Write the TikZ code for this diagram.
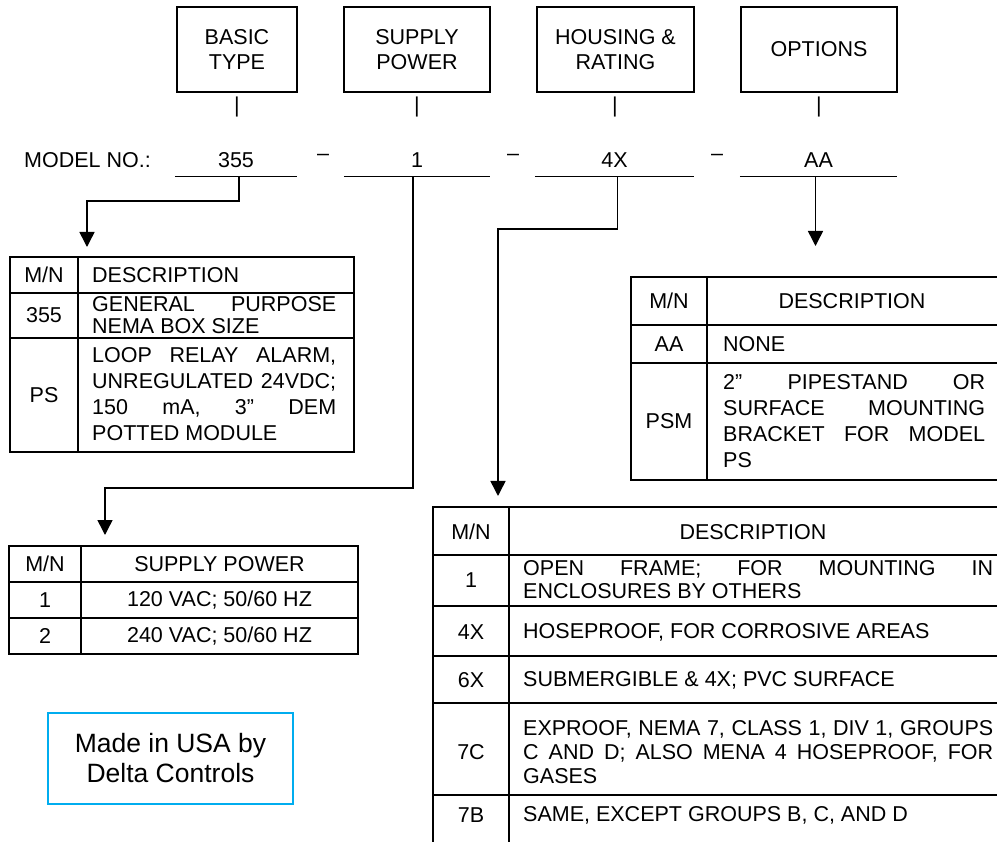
\documentclass[tikz,border=0pt]{standalone}
\usepackage{fontspec}
\setmainfont{Liberation Sans}
\usetikzlibrary{arrows.meta,positioning}

% justified line of a description
\newcommand{\jl}[1]{\makebox[\hsize][s]{#1}}

\begin{document}
\begin{tikzpicture}[x=1pt, y=-1pt,
    font=\fontsize{21.5}{25}\selectfont,
    headbox/.style={draw, line width=1.5pt, minimum width=#1, minimum height=85pt, align=center, inner sep=0pt},
    codeval/.style={minimum width=#1, minimum height=32pt, inner sep=0pt},
    cell/.style={inner sep=0pt, align=center},
    desc/.style={inner sep=0pt, text width=#1, align=flush left, anchor=west},
    grid/.style={line width=1.5pt},
    link/.style={line width=1.5pt, -{Triangle[width=15pt,length=15pt]}}]
    \useasboundingbox (0,0) rectangle (997,842);

    % Heading boxes
    \node[headbox=120pt] (hbasic) at (237,49.5) {BASIC\\TYPE};
    \node[headbox=146pt] (hsupply) at (417,49.5) {SUPPLY\\POWER};
    \node[headbox=157pt] (hhousing) at (615.5,49.5) {HOUSING \&\\RATING};
    \node[headbox=156pt] (hoptions) at (819,49.5) {OPTIONS};

    % Ticks under the heading boxes
    \node[inner sep=0pt] (tbasic) at (237,107) {|};
    \node[inner sep=0pt] (tsupply) at (417,107) {|};
    \node[inner sep=0pt] (thousing) at (615,107) {|};
    \node[inner sep=0pt] (toptions) at (819,107) {|};

    % Model number line
    \node[anchor=west, inner sep=0pt] (model) at (24,160) {MODEL NO.:};
    \node[codeval=122pt] (v355) at (236,160) {355};
    \node[codeval=146pt] (v1) at (417,160) {1};
    \node[codeval=159pt] (v4x) at (614.5,160) {4X};
    \node[codeval=157pt] (vaa) at (818.5,160) {AA};
    \node[inner sep=0pt] (dash1) at (323,157) {–};
    \node[inner sep=0pt] (dash2) at (513,157) {–};
    \node[inner sep=0pt] (dash3) at (717,157) {–};
    \foreach \v in {v355,v1,v4x,vaa}
      \draw[line width=1pt] (\v.south west) -- (\v.south east);

    % Arrow targets
    \coordinate (tipbasic) at (87,247);
    \coordinate (tipsupply) at (105,535);
    \coordinate (tiphousing) at (498,496);
    \coordinate (tipoptions) at (815.5,246);

    \draw[link] ([xshift=3pt]v355.south) -- ++(0,25) -| (tipbasic);
    \draw[link] ([xshift=-4pt]v1.south) -- ++(0,312) -| (tipsupply);
    \draw[link] ([xshift=3pt]v4x.south) -- ++(0,53) -| (tiphousing);
    \draw[link] ([xshift=-3pt]vaa.south) -- (tipoptions);

    % Basic type table
    \draw[grid] (10,257) rectangle (354,452);
    \draw[grid] (10,293) -- (354,293) (10,338) -- (354,338) (78,257) -- (78,452);
    \node[cell] (bmn) at (44,275) {M/N};
    \node[desc=244pt] (bdesc) at (92,275) {DESCRIPTION};
    \node[cell] (b355) at (44,315) {355};
    \node[desc=244pt, font=\fontsize{21.5}{22}\selectfont] (b355d) at (92,315)
      {\jl{GENERAL PURPOSE}\\NEMA BOX SIZE};
    \node[cell] (bps) at (44,395) {PS};
    \node[desc=244pt, font=\fontsize{21.5}{26}\selectfont] (bpsd) at (92,394)
      {\jl{LOOP RELAY ALARM,}\\\jl{UNREGULATED 24VDC;}\\\jl{150 mA, 3” DEM}\\POTTED MODULE};

    % Supply power table
    \draw[grid] (9,546) rectangle (358,654);
    \draw[grid] (9,582) -- (358,582) (9,618) -- (358,618) (81,546) -- (81,654);
    \node[cell] (smn) at (45,564) {M/N};
    \node[cell] (sdesc) at (219.5,564) {SUPPLY POWER};
    \node[cell] (s1) at (45,600) {1};
    \node[cell] (s1d) at (219.5,600) {120 VAC; 50/60 HZ};
    \node[cell] (s2) at (45,636) {2};
    \node[cell] (s2d) at (219.5,636) {240 VAC; 50/60 HZ};

    % Maker box
    \node[draw=cyan, line width=1.5pt, minimum width=245pt, minimum height=91pt,
      align=center, font=\fontsize{26.5}{30}\selectfont] (maker) at (170.5,758.5)
      {Made in USA by\\Delta Controls};

    % Options table
    \draw[grid] (999,277) -- (631,277) -- (631,480) -- (999,480);
    \draw[grid] (631,325) -- (999,325) (631,363) -- (999,363) (707,277) -- (707,480);
    \node[cell] (omn) at (669,301) {M/N};
    \node[cell] (odesc) at (852,301) {DESCRIPTION};
    \node[cell] (oaa) at (669,344) {AA};
    \node[desc=262pt] (oaad) at (723,344) {NONE};
    \node[cell] (opsm) at (669,421) {PSM};
    \node[desc=262pt, font=\fontsize{21.5}{26}\selectfont] (opsmd) at (723,421)
      {\jl{2” PIPESTAND OR}\\\jl{SURFACE MOUNTING}\\\jl{BRACKET FOR MODEL}\\PS};

    % Housing table
    \draw[grid] (999,507) -- (433,507) -- (433,850);
    \draw[grid] (509,507) -- (509,850);
    \foreach \y in {555,606,656,703,795}
      \draw[grid] (433,\y) -- (999,\y);
    \node[cell] (hmn) at (471,532) {M/N};
    \node[cell] (hdesc) at (753,532) {DESCRIPTION};
    \node[cell] (h1) at (471,580) {1};
    \node[desc=470pt, font=\fontsize{21.5}{23}\selectfont] (h1d) at (523,580)
      {\jl{OPEN FRAME; FOR MOUNTING IN}\\ENCLOSURES BY OTHERS};
    \node[cell] (h4x) at (471,632) {4X};
    \node[desc=470pt] (h4xd) at (523,632) {HOSEPROOF, FOR CORROSIVE AREAS};
    \node[cell] (h6x) at (471,680) {6X};
    \node[desc=470pt] (h6xd) at (523,680) {SUBMERGIBLE \& 4X; PVC SURFACE};
    \node[cell] (h7c) at (471,752) {7C};
    \node[desc=470pt, font=\fontsize{21.5}{24}\selectfont] (h7cd) at (523,752)
      {\jl{EXPROOF, NEMA 7, CLASS 1, DIV 1, GROUPS}\\\jl{C AND D; ALSO MENA 4 HOSEPROOF, FOR}\\GASES};
    \node[cell] (h7b) at (471,815) {7B};
    \node[desc=470pt] (h7bd) at (523,815) {SAME, EXCEPT GROUPS B, C, AND D};
  \end{tikzpicture}
\end{document}
